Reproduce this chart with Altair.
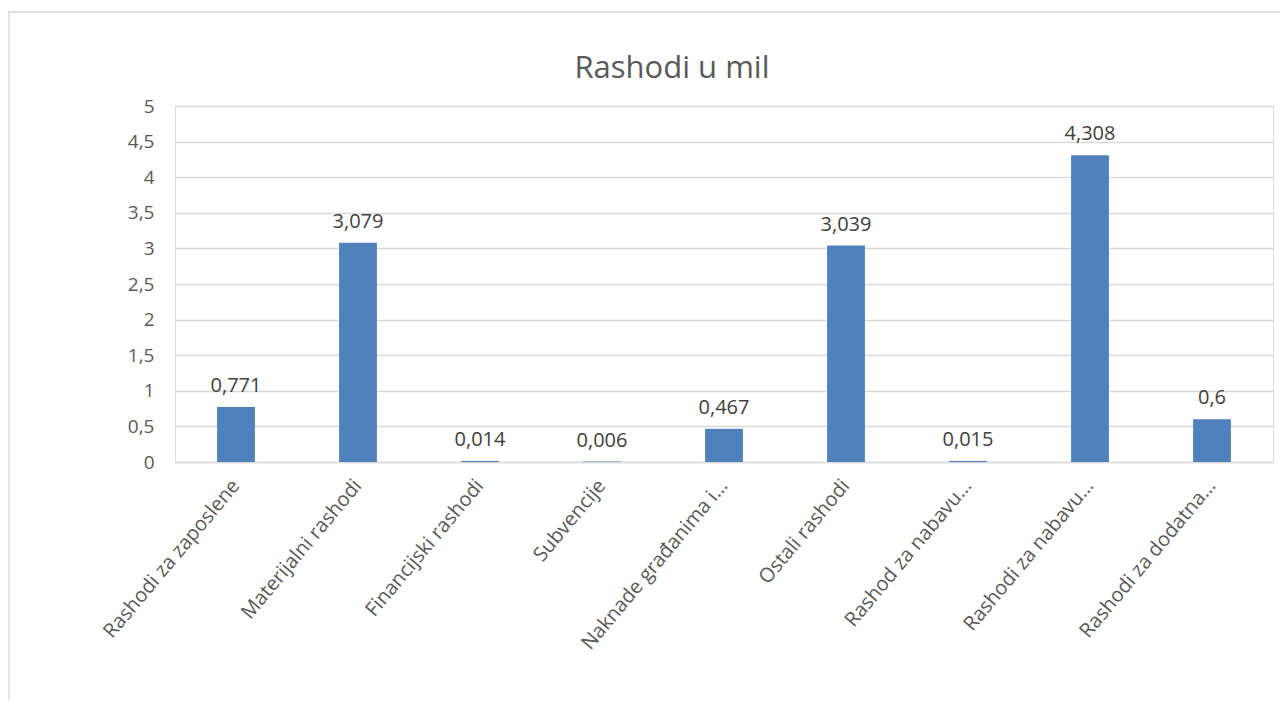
import altair as alt
import pandas as pd

categories = [
    "Rashodi za zaposlene",
    "Materijalni rashodi",
    "Financijski rashodi",
    "Subvencije",
    "Naknade građanima i…",
    "Ostali rashodi",
    "Rashod za nabavu…",
    "Rashodi za nabavu…",
    "Rashodi za dodatna…",
]
values = [0.771, 3.079, 0.014, 0.006, 0.467, 3.039, 0.015, 4.308, 0.6]
title_text = "Rashodi u mil"

df = pd.DataFrame({"cat": categories, "value": values})

FONT = "Open Sans"
TXT = "#595959"
GRID = "#d9d9d9"
BAR = "#4F81BD"

W, H = 1098, 356

x_enc = alt.X(
    "cat:N",
    sort=None,
    title=None,
    scale=alt.Scale(paddingInner=0.69, paddingOuter=0.345),
    axis=alt.Axis(
        labelAngle=-50,
        labelAlign="right",
        labelBaseline="middle",
        labelFont=FONT,
        labelFontSize=20,
        labelColor=TXT,
        labelPadding=20,
        ticks=False,
        domainColor=GRID,
        domainWidth=1.5,
        labelLimit=400,
        grid=False,
    ),
)
y_enc = alt.Y(
    "value:Q",
    title=None,
    scale=alt.Scale(domain=[0, 5], nice=False),
    axis=alt.Axis(
        values=[0, 0.5, 1, 1.5, 2, 2.5, 3, 3.5, 4, 4.5, 5],
        labelExpr="replace(toString(datum.value), '.', ',')",
        labelFont=FONT,
        labelFontSize=19,
        labelColor=TXT,
        labelPadding=21,
        ticks=False,
        domain=False,
        gridColor=GRID,
        gridWidth=1.5,
    ),
)

base = alt.Chart(df).encode(x=x_enc, y=y_enc)

bars = base.mark_bar(color=BAR)
labels = base.transform_calculate(
    lbl="replace(toString(datum.value), '.', ',')"
).mark_text(
    baseline="alphabetic", dy=-15, font=FONT, fontSize=20, color="#404040"
).encode(text="lbl:N")

border_df = pd.DataFrame({"k": [1]})
border = alt.Chart(border_df).mark_rect(
    fill="white", fillOpacity=0, stroke="#d9d9d9", strokeWidth=1.5
).encode(
    x=alt.value(-166), x2=alt.value(1250), y=alt.value(-94), y2=alt.value(700)
)

title_df = pd.DataFrame({"t": [title_text]})
title = alt.Chart(title_df).mark_text(
    font=FONT, fontSize=31, color=TXT, align="center", baseline="alphabetic"
).encode(x=alt.value(672 - 175), y=alt.value(78 - 106), text="t:N")

chart = alt.layer(border, bars, labels, title).properties(
    width=W,
    height=H,
    padding={"left": 167, "top": 98, "right": 7, "bottom": 238},
    autosize=alt.AutoSizeParams(type="none"),
).configure_view(stroke=None).configure(background="white")

chart.save("out.html", embed_options={"renderer": "svg", "actions": False})
